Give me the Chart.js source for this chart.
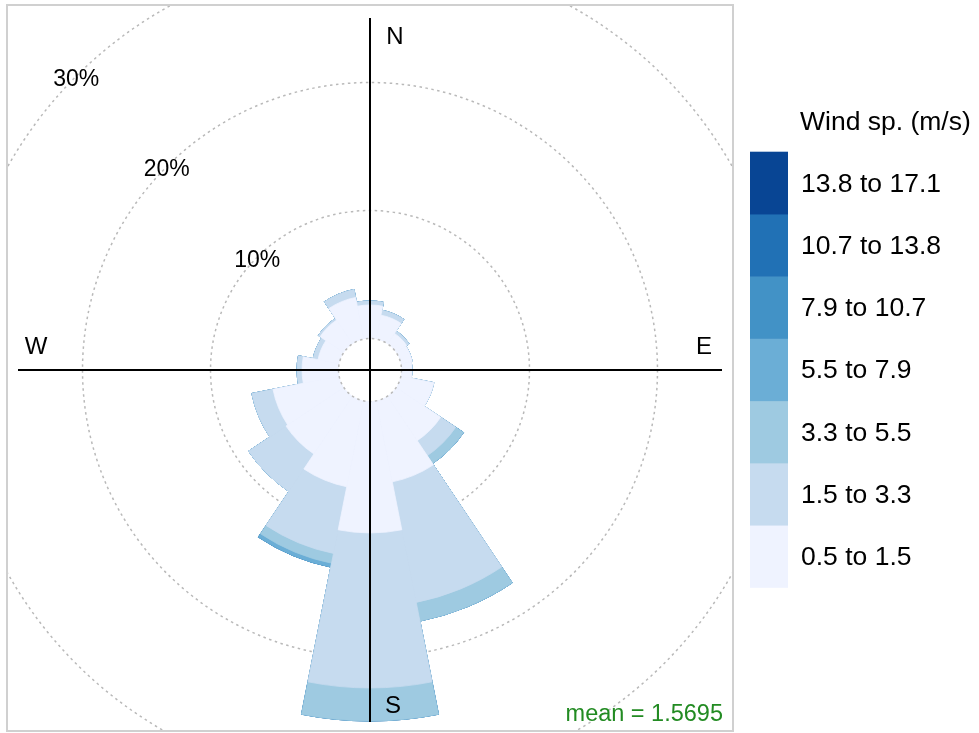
<!DOCTYPE html>
<html>
<head>
<meta charset="utf-8">
<title>Wind rose</title>
<script src="https://cdn.jsdelivr.net/npm/chart.js@4.4.1/dist/chart.umd.min.js"></script>
<style>
  html, body { margin: 0; padding: 0; background: #fff; }
  canvas { display: block; }
</style>
</head>
<body>
<canvas id="rose" width="979" height="733"></canvas>
<script>
// 16 个风向，从正北开始顺时针
const directions = ["N", "NNE", "NE", "ENE", "E", "ESE", "SE", "SSE", "S", "SSW", "SW", "WSW", "W", "WNW", "NW", "NNW"];
const speedBins = ["0.5 to 1.5", "1.5 to 3.3", "3.3 to 5.5", "5.5 to 7.9", "7.9 to 10.7", "10.7 to 13.8", "13.8 to 17.1"];
const binColors = ["#eff3ff", "#c6dbef", "#9ecae1", "#6baed6", "#4292c6", "#2171b5", "#084594"];

// 每个风速区间在各风向上的频率 (%)
const bin1 = [2.62, 1.91, 0.98, 0.90, 0.82, 2.62, 4.18, 6.45, 10.27, 6.84, 5.43, 5.27, 2.85, 1.68, 2.23, 3.32];
const bin2 = [0.31, 0.39, 0.23, 0, 0, 0, 1.41, 9.60, 12.11, 5.31, 3.52, 1.68, 0.39, 0.39, 0.16, 0.63];
const bin3 = [0, 0, 0, 0, 0, 0, 0.74, 1.49, 2.58, 0.78, 0, 0, 0, 0, 0, 0];
const bin4 = [0, 0, 0, 0, 0, 0, 0, 0, 0, 0.31, 0, 0, 0, 0, 0, 0];
const bin5 = [0, 0, 0, 0, 0, 0, 0, 0, 0, 0, 0, 0, 0, 0, 0, 0];
const bin6 = [0, 0, 0, 0, 0, 0, 0, 0, 0, 0, 0, 0, 0, 0, 0, 0];
const bin7 = [0, 0, 0, 0, 0, 0, 0, 0, 0, 0, 0, 0, 0, 0, 0, 0];

const gridPct = [10, 20, 30];
const meanSpeed = "1.5695";

// 中心空白圈相当于 2.46%
const calmOffset = 2.46;
const maxPct = 25.04;

const FONT = "'Liberation Sans', Arial, sans-serif";

// 累加得到叠加的半径 (大的先画, 小的盖在上面)
const bins = [bin1, bin2, bin3, bin4, bin5, bin6, bin7];
const datasets = [];
let running = directions.map(() => 0);
for (let b = 0; b < bins.length; b++) {
  running = running.map((v, i) => v + bins[b][i]);
  datasets.push({
    label: speedBins[b],
    data: running.slice(),
    backgroundColor: binColors[b],
    borderColor: binColors[b],
    borderWidth: 0.8,
  });
}

const box = { left: 7, top: 5, right: 733, bottom: 731 };

const roseDecor = {
  id: "roseDecor",
  beforeDatasetsDraw(chart) {
    const r = chart.scales.r;
    const ctx = chart.ctx;
    ctx.save();
    ctx.beginPath();
    ctx.rect(box.left, box.top, box.right - box.left, box.bottom - box.top);
    ctx.clip();
    ctx.strokeStyle = "#b9b9b9";
    ctx.lineWidth = 1.5;
    ctx.setLineDash([2.5, 3.5]);
    gridPct.forEach((v) => {
      ctx.beginPath();
      ctx.arc(r.xCenter, r.yCenter, r.getDistanceFromCenterForValue(v), 0, Math.PI * 2);
      ctx.stroke();
    });
    ctx.restore();
  },
  afterDatasetsDraw(chart) {
    const r = chart.scales.r;
    const ctx = chart.ctx;
    const cx = r.xCenter, cy = r.yCenter;
    const R = r.drawingArea;

    // 静风圈
    ctx.save();
    const calmR = r.getDistanceFromCenterForValue(0);
    ctx.fillStyle = "#ffffff";
    ctx.beginPath();
    ctx.arc(cx, cy, calmR, 0, Math.PI * 2);
    ctx.fill();
    ctx.strokeStyle = "#b9b9b9";
    ctx.lineWidth = 1.5;
    ctx.setLineDash([2.5, 3.5]);
    ctx.stroke();
    ctx.setLineDash([]);

    // 十字轴
    ctx.strokeStyle = "#000";
    ctx.lineWidth = 2;
    ctx.beginPath();
    ctx.moveTo(cx - R, cy);
    ctx.lineTo(cx + R, cy);
    ctx.moveTo(cx, cy - R);
    ctx.lineTo(cx, cy + R);
    ctx.stroke();

    // 方位标签
    ctx.fillStyle = "#000";
    ctx.textBaseline = "middle";
    ctx.font = "24px " + FONT;
    ctx.textAlign = "center";
    ctx.fillText("N", cx + 25, cy - 333);
    ctx.fillText("S", cx + 23, cy + 336);
    ctx.fillText("W", cx - 334, cy - 23);
    ctx.fillText("E", cx + 334, cy - 23);

    // 百分比标签 (西北方向)
    ctx.font = "23px " + FONT;
    gridPct.forEach((v) => {
      const d = r.getDistanceFromCenterForValue(v) * Math.SQRT1_2;
      ctx.fillText(v + "%", cx - d, cy - d + 3);
    });

    // 平均风速
    ctx.fillStyle = "#228b22";
    ctx.textAlign = "right";
    ctx.textBaseline = "alphabetic";
    ctx.font = "23.5px " + FONT;
    ctx.fillText("mean = " + meanSpeed, 723, 721);

    // 边框
    ctx.strokeStyle = "#d0d0d0";
    ctx.lineWidth = 2;
    ctx.strokeRect(box.left, box.top, box.right - box.left, box.bottom - box.top);

    // 图例
    const lx = 750, lw = 38, top = 151.7, bh = 62.23;
    ctx.fillStyle = "#000";
    ctx.textAlign = "left";
    ctx.textBaseline = "middle";
    ctx.font = "26.5px " + FONT;
    ctx.fillText("Wind sp. (m/s)", 800, 123);
    const n = chart.data.datasets.length;
    chart.data.datasets.forEach((ds, i) => {
      const y = top + (n - 1 - i) * bh;
      ctx.fillStyle = ds.backgroundColor;
      ctx.fillRect(lx, y, lw, bh + 0.5);
      ctx.fillStyle = "#000";
      ctx.fillText(ds.label, 801, y + bh / 2 + 1.5);
    });
    ctx.restore();
  },
};

new Chart(document.getElementById("rose"), {
  type: "polarArea",
  data: {
    labels: directions,
    datasets: datasets,
  },
  options: {
    responsive: false,
    animation: false,
    layout: {
      padding: { left: 18, top: 18, right: 257, bottom: 11 },
    },
    plugins: {
      legend: { display: false },
      tooltip: { enabled: false },
    },
    scales: {
      r: {
        min: -calmOffset,
        max: maxPct,
        startAngle: -11.25,
        grid: { display: false },
        angleLines: { display: false },
        ticks: { display: false },
        pointLabels: { display: false },
      },
    },
  },
  plugins: [roseDecor],
});
</script>
</body>
</html>
